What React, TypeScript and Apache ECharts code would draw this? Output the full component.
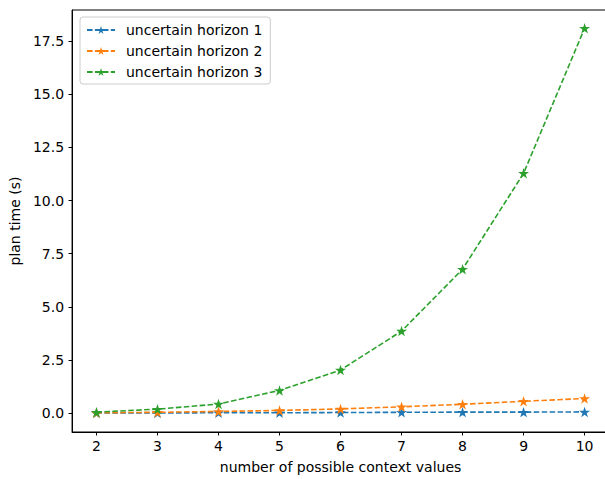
import React, { useEffect, useRef } from "react";
import * as echarts from "echarts";

const contextValues = [2, 3, 4, 5, 6, 7, 8, 9, 10];
const horizon1 = [0.01, 0.01, 0.02, 0.02, 0.03, 0.04, 0.05, 0.05, 0.06];
const horizon2 = [0.02, 0.04, 0.08, 0.13, 0.2, 0.3, 0.42, 0.56, 0.69];
const horizon3 = [0.05, 0.19, 0.43, 1.07, 2.03, 3.86, 6.77, 11.28, 18.1];
const seriesNames = ["uncertain horizon 1", "uncertain horizon 2", "uncertain horizon 3"];
const seriesColors = ["#1f77b4", "#ff7f0e", "#2ca02c"];
const xTicks = [2, 3, 4, 5, 6, 7, 8, 9, 10];
const yTicks = [0, 2.5, 5, 7.5, 10, 12.5, 15, 17.5];

const STAR =
  "path://M100,0 L122.45,69.1 L195.1,69.1 L136.3,111.8 L158.8,180.9 L100,138.2 L41.2,180.9 L63.7,111.8 L4.9,69.1 L77.55,69.1 Z";

export default function App() {
  const ref = useRef<HTMLDivElement>(null);
  useEffect(() => {
    if (!ref.current) return;
    const chart = echarts.init(ref.current, undefined, { renderer: "svg" });
    const font = "DejaVu Sans";
    const data = [horizon1, horizon2, horizon3];
    chart.setOption({
      animation: false,
      textStyle: { fontFamily: font },
      grid: {
        left: 72,
        top: 10,
        bottom: 47,
        right: 6,
        show: true,
        borderColor: "#000",
        borderWidth: 1,
        backgroundColor: "transparent",
      },
      legend: {
        orient: "vertical",
        left: 80,
        top: 17,
        itemWidth: 28,
        itemHeight: 10,
        itemGap: 7,
        padding: [6, 8, 5, 6],
        backgroundColor: "rgba(255,255,255,0.8)",
        borderColor: "#cccccc",
        borderWidth: 1,
        borderRadius: 3,
        textStyle: { fontFamily: font, fontSize: 14, color: "#000", padding: [0, 0, 0, 6] },
        data: seriesNames,
      },
      xAxis: {
        type: "value",
        min: 1.6,
        max: 10.4,
        name: "number of possible context values",
        nameLocation: "middle",
        nameGap: 28,
        nameTextStyle: { fontFamily: font, fontSize: 14, color: "#000" },
        axisLine: { show: true, onZero: false, lineStyle: { color: "#000", width: 1 } },
        axisTick: { show: true, length: 3.5, lineStyle: { color: "#000" }, customValues: xTicks },
        axisLabel: {
          fontFamily: font,
          fontSize: 14,
          color: "#000",
          margin: 7,
          customValues: xTicks,
          formatter: (v: number) => String(v),
        },
        splitLine: { show: false },
      },
      yAxis: {
        type: "value",
        min: -0.885,
        max: 18.96,
        name: "plan time (s)",
        nameLocation: "middle",
        nameGap: 48,
        nameRotate: 90,
        nameTextStyle: { fontFamily: font, fontSize: 14, color: "#000" },
        axisLine: { show: true, onZero: false, lineStyle: { color: "#000", width: 1 } },
        axisTick: { show: true, length: 3.5, lineStyle: { color: "#000" }, customValues: yTicks },
        axisLabel: {
          fontFamily: font,
          fontSize: 14,
          color: "#000",
          margin: 8,
          customValues: yTicks,
          formatter: (v: number) => v.toFixed(1),
        },
        splitLine: { show: false },
      },
      series: data.map((d, i) => ({
        name: seriesNames[i],
        type: "line",
        data: contextValues.map((x, j) => [x, d[j]]),
        symbol: STAR,
        symbolSize: 11,
        symbolKeepAspect: true,
        showSymbol: true,
        color: seriesColors[i],
        itemStyle: { color: seriesColors[i] },
        lineStyle: { color: seriesColors[i], width: 1.6, type: [5.55, 2.4] },
        z: 2 + i,
      })),
    });
    return () => chart.dispose();
  }, []);
  return (
    <div style={{ position: "absolute", left: 0, top: 0, width: 605, height: 479, overflow: "hidden" }}>
      <div ref={ref} style={{ width: 615, height: 479 }} />
    </div>
  );
}
